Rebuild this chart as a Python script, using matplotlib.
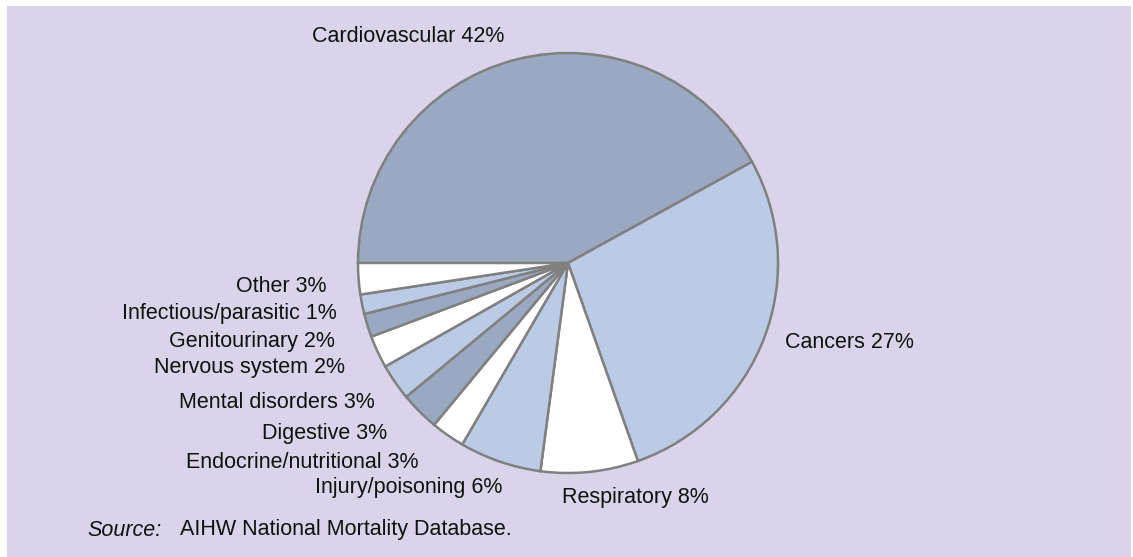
import matplotlib.pyplot as plt
from matplotlib.patches import Rectangle

plt.rcParams['font.family'] = ['Liberation Sans', 'DejaVu Sans']

# share of deaths by cause, clockwise from 9 o'clock
causes = ['Cardiovascular', 'Cancers', 'Respiratory', 'Injury/poisoning',
          'Endocrine/nutritional', 'Digestive', 'Mental disorders',
          'Nervous system', 'Genitourinary', 'Infectious/parasitic', 'Other']
shares = [42.0, 27.6, 7.5, 6.3, 2.6, 3.0, 2.8, 2.5, 1.8, 1.5, 2.4]
shown_pct = [42, 27, 8, 6, 3, 3, 3, 2, 2, 1, 3]

GREY = '#9aa8c1'
LIGHT = '#bbcbe6'
WHITE = '#ffffff'
colors = [GREY, LIGHT, WHITE, LIGHT, WHITE, GREY, LIGHT, WHITE, GREY, LIGHT, WHITE]

W, H = 1133, 557
fig = plt.figure(figsize=(W / 100, H / 100), dpi=100)
fig.patch.set_facecolor('white')
ax = fig.add_axes([0, 0, 1, 1])

# lavender panel (pixel coords, y measured from bottom)
ax.add_patch(Rectangle((7, 0), 1124, H - 6, facecolor='#d9d4e9', edgecolor='none', zorder=0))

ax.pie(shares, colors=colors, startangle=180, counterclock=False,
       center=(568, H - 263), radius=210,
       wedgeprops=dict(edgecolor='#808080', linewidth=1.8), frame=False)

ax.set_xlim(0, W)
ax.set_ylim(0, H)
ax.set_aspect('equal')
ax.axis('off')

# label anchors in pixels from top-left: (x, y, ha)
label_pos = [(408, 37, 'center'), (785, 342, 'left'), (562, 498, 'left'),
             (502, 488, 'right'), (418, 463, 'right'), (387, 433, 'right'),
             (375, 402, 'right'), (345, 367, 'right'), (335, 342, 'right'),
             (337, 313, 'right'), (327, 286, 'right')]

fs = 15.5
for name, pct, (x, y, ha) in zip(causes, shown_pct, label_pos):
    ax.text(x, H - y, f'{name} {pct}%', ha=ha, va='center', fontsize=fs, color='#111111')

ax.text(87, H - 530, 'Source:', style='italic', ha='left', va='center', fontsize=fs, color='#111111')
ax.text(180, H - 530, 'AIHW National Mortality Database.', ha='left', va='center', fontsize=fs, color='#111111')

fig.savefig('out.png', dpi=100, facecolor=fig.get_facecolor())
